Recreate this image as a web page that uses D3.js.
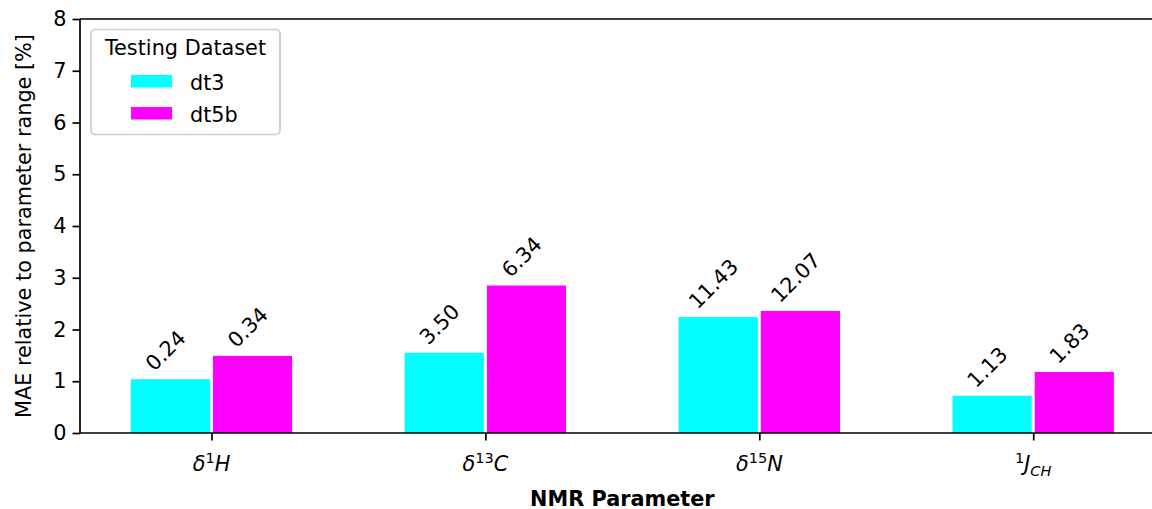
<!DOCTYPE html>
<html>
<head>
<meta charset="utf-8">
<script src="https://cdn.jsdelivr.net/npm/d3@7"></script>
<style>
  body { margin: 0; background: #fff; }
  svg { display: block; font-family: "DejaVu Sans", sans-serif; }
</style>
</head>
<body>
<div id="chart"></div>
<script>
const width = 1152;
const height = 509;

// Categories (NMR parameters) and series
const params = ["d1H", "d13C", "d15N", "1JCH"];
const seriesNames = ["dt3", "dt5b"];
const seriesColors = ["#00ffff", "#ff00ff"];

// bar heights (MAE relative to parameter range, %)
const dt3Values = [1.04, 1.55, 2.24, 0.72];
const dt5bValues = [1.49, 2.85, 2.36, 1.18];

// absolute MAE printed above bars
const dt3Labels = ["0.24", "3.50", "11.43", "1.13"];
const dt5bLabels = ["0.34", "6.34", "12.07", "1.83"];

const yTicks = [0, 1, 2, 3, 4, 5, 6, 7, 8];

const fs = 20.8;
const barWidth = 0.3;

const svg = d3
  .select("#chart")
  .append("svg")
  .attr("width", width)
  .attr("height", height);

const xScale = d3.scaleLinear().domain([-0.48, 3.48]).range([80, 1164.7]);
const yScale = d3.scaleLinear().domain([0, 8]).range([433, 19]);

// Bars
const seriesData = [dt3Values, dt5bValues];
const seriesLabels = [dt3Labels, dt5bLabels];

seriesData.forEach((values, s) => {
  const offset = s === 0 ? -barWidth : 0;
  svg
    .append("g")
    .selectAll("rect")
    .data(values)
    .enter()
    .append("rect")
    .attr("x", (d, i) => xScale(i + offset) + 1.5)
    .attr("y", (d) => yScale(d))
    .attr("width", xScale(barWidth) - xScale(0) - 3)
    .attr("height", (d) => yScale(0) - yScale(d))
    .attr("fill", seriesColors[s]);
});

// Rotated value labels above bars
seriesData.forEach((values, s) => {
  const center = s === 0 ? -barWidth / 2 : barWidth / 2;
  const g = svg.append("g");
  values.forEach((v, i) => {
    const t = g
      .append("text")
      .attr("font-size", fs)
      .attr("text-anchor", "middle")
      .attr("dy", "0.36em")
      .attr("fill", "#000")
      .text(seriesLabels[s][i]);
    const w = t.node().getComputedTextLength();
    const h = 0.707 * (w + 0.73 * fs);
    const cx = xScale(i + center) - 5;
    const cy = yScale(v) - 7 - h / 2;
    t.attr("transform", `translate(${cx},${cy}) rotate(-45)`);
  });
});

// Y axis
const yAxis = svg
  .append("g")
  .attr("transform", "translate(80,0)")
  .call(
    d3.axisLeft(yScale).tickValues(yTicks).tickSize(7.5).tickPadding(6).tickFormat(d3.format("d"))
  );
yAxis.select(".domain").attr("stroke-width", 1.7).attr("d", `M0,${yScale(0)}V${yScale(8)}`);
yAxis.selectAll(".tick line").attr("stroke-width", 1.7);
yAxis.selectAll(".tick text").attr("font-size", fs).attr("fill", "#000").attr("font-family", "DejaVu Sans");

// X axis (ticks only; labels drawn below with math formatting)
const xAxis = svg
  .append("g")
  .attr("transform", `translate(0,${yScale(0)})`)
  .call(d3.axisBottom(xScale).tickValues(d3.range(params.length)).tickSize(7.5).tickFormat(""));
xAxis.select(".domain").attr("stroke-width", 1.7).attr("d", `M80,0H1164.7`);
xAxis.selectAll(".tick line").attr("stroke-width", 1.7);

// top and right spines
svg.append("path")
  .attr("d", `M80,${yScale(8)}H${xScale(3.48)}V${yScale(0)}`)
  .attr("fill", "none")
  .attr("stroke", "#000")
  .attr("stroke-width", 1.7);

// X tick labels: delta-1H, delta-13C, delta-15N, 1J_CH
const tickParts = [
  [["δ", "i"], ["1", "sup"], ["H", "i"]],
  [["δ", "i"], ["13", "sup"], ["C", "i"]],
  [["δ", "i"], ["15", "sup"], ["N", "i"]],
  [["1", "sup"], ["J", "i"], ["CH", "sub"]],
];

tickParts.forEach((parts, i) => {
  const t = svg
    .append("text")
    .attr("x", xScale(i))
    .attr("y", 471)
    .attr("text-anchor", "middle")
    .attr("font-size", fs);
  let level = 0;
  parts.forEach(([str, kind]) => {
    const ts = t.append("tspan").text(str);
    let target = 0;
    if (kind === "sup") {
      ts.attr("font-size", fs * 0.7);
      target = -8;
    } else if (kind === "sub") {
      ts.attr("font-size", fs * 0.7).attr("font-style", "italic");
      target = 5;
    } else {
      ts.attr("font-style", "italic");
    }
    if (target !== level) ts.attr("dy", target - level);
    level = target;
  });
});

// Axis titles
svg.append("text")
  .attr("x", xScale(1.5))
  .attr("y", 506)
  .attr("text-anchor", "middle")
  .attr("font-size", fs)
  .attr("font-weight", "bold")
  .text("NMR Parameter");

svg.append("text")
  .attr("transform", `translate(31,${(yScale(0) + yScale(8)) / 2}) rotate(-90)`)
  .attr("text-anchor", "middle")
  .attr("font-size", fs)
  .text("MAE relative to parameter range [%]");

// Legend
const legend = svg.append("g");
legend.append("rect")
  .attr("x", 91)
  .attr("y", 29.5)
  .attr("width", 189)
  .attr("height", 105)
  .attr("rx", 4)
  .attr("fill", "#fff")
  .attr("fill-opacity", 0.8)
  .attr("stroke", "#cccccc")
  .attr("stroke-width", 1.7);

legend.append("text")
  .attr("x", 185.5)
  .attr("y", 55)
  .attr("text-anchor", "middle")
  .attr("font-size", fs)
  .text("Testing Dataset");

seriesNames.forEach((name, s) => {
  const y0 = 75 + s * 32;
  legend.append("rect")
    .attr("x", 131)
    .attr("y", y0)
    .attr("width", 41)
    .attr("height", 12.5)
    .attr("fill", seriesColors[s]);
  legend.append("text")
    .attr("x", 190)
    .attr("y", y0 + 14.5)
    .attr("font-size", fs)
    .text(name);
});
</script>
</body>
</html>
